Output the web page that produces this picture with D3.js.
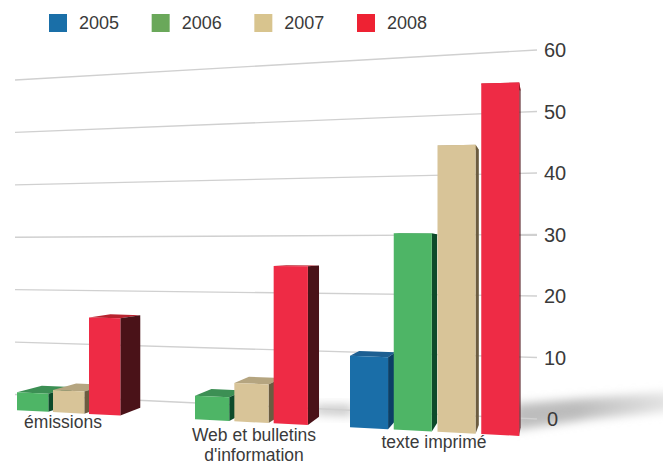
<!DOCTYPE html>
<html>
<head>
<meta charset="utf-8">
<script src="https://cdn.jsdelivr.net/npm/d3@7"></script>
<style>
html,body{margin:0;padding:0;background:#fff}
text{font-family:"Liberation Sans",Arial,sans-serif;fill:#3a3a3a}
</style>
</head>
<body>
<svg id="chart" width="663" height="464"></svg>
<script>
const categories = ["émissions", "Web et bulletins|d'information", "texte imprimé"];
const years = ["2005", "2006", "2007", "2008"];
const values2005 = [0, 0, 11.4];
const values2006 = [3.1, 3.9, 31];
const values2007 = [3.8, 6.3, 44.8];
const values2008 = [16.4, 25.6, 54.3];
const tickValues = [0, 10, 20, 30, 40, 50, 60];
const series = [values2005, values2006, values2007, values2008];

const frontColors = ["#1a6ea8", "#4eb566", "#d8c498", "#ee2b45"];
const sideColors = ["#0c3f66", "#0d4a2a", "#6b5c40", "#4a1218"];
const topColors = ["#1d5f92", "#3c8f54", "#b5a580", "#b8232f"];
const legendColors = ["#1a6fa8", "#6aa85a", "#d8c48e", "#ee2233"];

const svg = d3.select("#chart");

// Back wall: the value axis converges between its far-left and near-right edges.
const wallX = d3.scaleLinear().domain([0, 1]).range([15, 537]);
const wallLeft = d3.scaleLinear().domain([0, 60]).range([394.5, 80]);
const wallRight = d3.scaleLinear().domain([0, 60]).range([419, 50]);

// Front plane of the bars, also drawn in perspective.
const frontLeft = d3.scaleLinear().domain([0, 60]).range([409.4, 64.4]);
const frontRight = d3.scaleLinear().domain([0, 60]).range([443.2, 40]);
const frontY = (v, x) => frontLeft(v) + (frontRight(v) - frontLeft(v)) * x / 663;

// Bars sit on numbered slots; slots widen towards the viewer.
const slotX = d3.scaleLinear().domain([1, 4, 6, 9, 10, 14]).range([17, 125, 195, 313, 350, 525]);
const barFill = 0.87;
const groupFirstSlot = [0, 5, 10];

// Depth of each bar, receding to a single vanishing point.
const vanish = {x: 545, y: 250};
const depth = 0.047;
const back = ([x, y]) => [x + depth * (vanish.x - x), y + depth * (vanish.y - y)];
const path = d3.line();

const defs = svg.append("defs");
defs.append("filter").attr("id", "soft").attr("x", "-30%").attr("y", "-60%").attr("width", "160%").attr("height", "220%")
  .append("feGaussianBlur").attr("stdDeviation", 5);
const fade = defs.append("linearGradient").attr("id", "fade");
fade.append("stop").attr("offset", "0").attr("stop-color", "#bdbdbd");
fade.append("stop").attr("offset", "0.4").attr("stop-color", "#bcbcbc");
fade.append("stop").attr("offset", "1").attr("stop-color", "#e6e6e6");

// Floor shadows
svg.append("path")
  .attr("d", path([[515, 404], [590, 398], [672, 392], [672, 411], [590, 419], [515, 430]]))
  .attr("fill", "url(#fade)").attr("filter", "url(#soft)");
svg.append("path")
  .attr("d", path([[315, 405], [352, 405], [352, 416], [315, 414]]))
  .attr("fill", "#c8c8c8").attr("filter", "url(#soft)");

// Grid lines and axis labels
const gridG = svg.append("g");
gridG.selectAll("line").data(tickValues).join("line")
  .attr("x1", wallX(0)).attr("x2", wallX(1))
  .attr("y1", d => wallLeft(d)).attr("y2", d => wallRight(d))
  .attr("stroke", "#d0d0d0").attr("stroke-width", 1.4);
svg.append("g").selectAll("text").data(tickValues).join("text")
  .attr("x", d => d === 0 ? 547 : 544)
  .attr("y", d => wallRight(d))
  .attr("dy", "0.36em")
  .attr("font-size", 20)
  .text(d => d);

// Bars
const barsG = svg.append("g");
categories.forEach((cat, c) => {
  series.forEach((vals, s) => {
    const v = vals[c];
    if (!v) return;
    const slot = groupFirstSlot[c] + s;
    const x0 = slotX(slot);
    const x1 = x0 + (slotX(slot + 1) - x0) * barFill;
    const bl = [x0, frontY(0, x0)], br = [x1, frontY(0, x1)];
    const tl = [x0, frontY(v, x0)], tr = [x1, frontY(v, x1)];
    const g = barsG.append("g");
    g.append("path").attr("d", path([tl, tr, back(tr), back(tl)]) + "Z").attr("fill", topColors[s]);
    g.append("path").attr("d", path([tr, br, back(br), back(tr)]) + "Z").attr("fill", sideColors[s]);
    g.append("path").attr("d", path([tl, tr, br, bl]) + "Z").attr("fill", frontColors[s]);
  });
});

// Category labels
const labelSpots = [{x: 63, y: 428}, {x: 254, y: 441}, {x: 434, y: 448}];
categories.forEach((cat, i) => {
  cat.split("|").forEach((line, k) => {
    svg.append("text")
      .attr("x", labelSpots[i].x)
      .attr("y", labelSpots[i].y + k * 20)
      .attr("text-anchor", "middle")
      .attr("font-size", 17.5)
      .text(line);
  });
});

// Legend
const legendX = d3.scaleLinear().domain([0, 3]).range([49, 357]);
const legend = svg.append("g").selectAll("g").data(years).join("g")
  .attr("transform", (d, i) => `translate(${legendX(i)},14)`);
legend.append("rect").attr("width", 18).attr("height", 18)
  .attr("fill", (d, i) => legendColors[i]);
legend.append("text").attr("x", 30).attr("y", 15).attr("font-size", 18).text(d => d);
</script>
</body>
</html>
